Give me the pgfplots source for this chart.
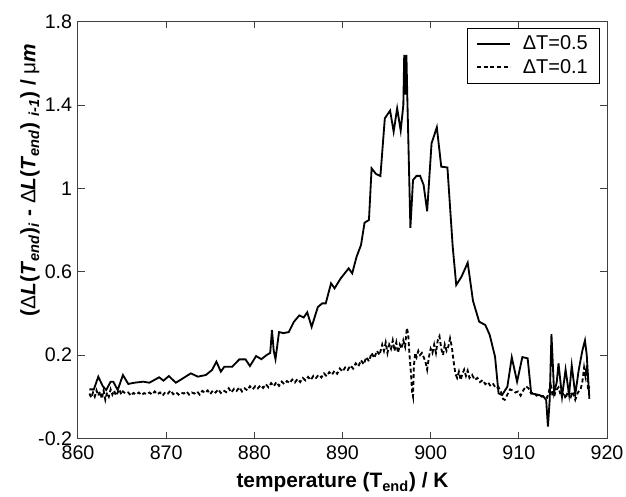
\documentclass[border=0pt]{standalone}
\usepackage{fontspec}
\setmainfont{Liberation Sans}
\usepackage{pgfplots}
\pgfplotsset{compat=1.18}
\begin{document}
\begin{tikzpicture}
\begin{axis}[
  scale only axis,
  width=317.4pt, height=250pt,
  xmin=860, xmax=920, ymin=-0.2, ymax=1.8,
  xtick={860,870,880,890,900,910,920},
  xticklabels={860,870,880,890,900,910,920},
  ytick={-0.2,0.2,0.6,1,1.4,1.8},
  yticklabels={-0.2,0.2,0.6,1,1.4,1.8},
  tick align=inside,
  major tick length=4pt,
  axis line style={black!75, line width=0.6pt},
  tick style={black!75, line width=0.6pt},
  ticklabel style={font=\fontsize{11.8}{13}\selectfont},
  xticklabel style={yshift=-1pt},
  xlabel={\bfseries temperature (T\textsubscript{end}) / K},
  xlabel style={font=\fontsize{12.5}{14}\selectfont, at={(axis description cs:0.5,0)}, anchor=base, yshift=-29.4pt},
  ylabel={\textbf{(}Δ\textbf{\textit{L}(\textit{T}\textsubscript{\textit{end}})\textsubscript{\textit{i}} - }Δ\textbf{\textit{L}(\textit{T}\textsubscript{\textit{end}}) \textsubscript{\textit{i-1}}) / }μ\textbf{\textit{m}}},
  ylabel style={font=\fontsize{12.5}{14}\selectfont, at={(axis description cs:-0.0907,0.62)}, anchor=center},
  legend style={at={(rel axis cs:1,1)}, anchor=north east, xshift=-4.2pt, yshift=-3.8pt,
    draw=black, line width=0.6pt, fill=white, font=\fontsize{12}{14}\selectfont,
    inner xsep=5pt, inner ysep=2.5pt, row sep=0pt,
    /tikz/every odd column/.append style={column sep=5pt}},
  legend cell align=left,
  legend image code/.code={\draw[#1] (0pt,0pt) -- (20pt,0pt);},
]
\addplot[black, line width=1.1pt] table {
861.3 0.035
861.8 0.035
862.3 0.096
862.8 0.051
863.2 0.032
863.7 0.072
864.0 0.072
864.5 0.032
865.1 0.104
865.7 0.061
866.4 0.067
867.4 0.072
868.1 0.067
869.2 0.093
869.7 0.077
870.3 0.099
871.1 0.067
871.9 0.088
872.8 0.112
873.6 0.096
874.5 0.104
875.2 0.128
875.7 0.168
876.2 0.12
876.6 0.144
877.5 0.144
878.3 0.179
879.0 0.179
879.5 0.147
880.2 0.195
880.8 0.18
881.4 0.20
881.8 0.21
882.0 0.32
882.2 0.22
882.4 0.18
882.8 0.31
883.3 0.305
883.9 0.31
884.5 0.36
885.1 0.39
885.6 0.38
886.0 0.405
886.5 0.335
887.2 0.43
887.7 0.448
888.1 0.448
888.7 0.544
889.1 0.52
889.8 0.568
890.7 0.616
891.1 0.592
891.6 0.672
892.1 0.728
892.5 0.835
893.0 0.848
893.3 1.096
893.8 1.069
894.3 1.059
894.8 1.336
895.4 1.373
895.8 1.272
896.2 1.384
896.6 1.277
896.9 1.40
897.0 1.64
897.15 1.45
897.25 1.64
897.35 1.44
897.7 0.81
898.0 1.04
898.4 1.06
898.8 1.06
899.2 1.016
899.6 0.89
900.1 1.216
900.7 1.293
901.2 1.104
901.9 1.10
902.5 0.72
902.9 0.536
903.5 0.576
904.2 0.643
904.8 0.46
905.5 0.36
906.2 0.344
906.7 0.296
907.3 0.192
907.7 0.016
908.1 0.008
908.7 0.048
909.2 0.189
909.8 0.072
910.4 0.19
911.0 0.184
911.4 0.016
912.3 0.008
912.8 0.0
913.1 -0.016
913.3 -0.144
913.5 -0.016
913.7 0.30
914.0 0.02
914.3 0.07
914.5 0.16
914.9 0.0
915.3 0.13
915.7 0.01
916.0 0.15
916.4 0.01
916.8 0.13
917.2 0.22
917.5 0.27
917.7 0.2
918.0 -0.01
};
\addlegendentry{ΔT=0.5}
\addplot[black, line width=1.1pt, dash pattern=on 2.4pt off 1.6pt] table {
861.3 0.015
861.5 -0.005
861.7 0.02
861.9 0.0
862.1 0.03
862.3 0.005
862.5 0.025
862.7 -0.01
862.9 0.03
863.1 -0.015
863.3 0.02
863.5 0.0
863.7 0.035
863.9 0.01
864.1 0.03
864.3 0.005
864.5 0.02
864.7 0.035
864.9 0.01
865.1 0.025
865.4 0.015
865.7 0.02
866.0 0.005
866.3 0.018
866.6 0.01
866.9 0.02
867.2 0.008
867.5 0.017
867.8 0.012
868.1 0.02
868.4 0.01
868.7 0.025
869.0 0.012
869.3 0.02
869.6 0.005
869.9 0.022
870.2 0.015
870.5 0.03
870.8 0.012
871.1 0.022
871.4 0.01
871.7 0.02
872.0 0.015
872.3 0.025
872.6 0.01
872.9 0.02
873.2 0.015
873.5 0.025
873.8 0.01
874.1 0.028
874.4 0.018
874.7 0.03
875.0 0.012
875.3 0.03
875.6 0.02
875.9 0.035
876.2 0.018
876.5 0.03
876.8 0.022
877.1 0.04
877.4 0.02
877.7 0.038
878.0 0.028
878.3 0.045
878.6 0.025
878.9 0.04
879.2 0.03
879.5 0.05
879.8 0.035
880.1 0.05
880.4 0.04
880.7 0.055
881.0 0.042
881.3 0.06
881.6 0.045
881.9 0.065
882.2 0.05
882.5 0.07
882.8 0.052
883.1 0.072
883.4 0.06
883.7 0.075
884.0 0.065
884.3 0.082
884.6 0.068
884.9 0.085
885.2 0.07
885.5 0.09
885.8 0.078
886.1 0.095
886.4 0.08
886.7 0.1
887.0 0.09
887.3 0.105
887.6 0.092
887.9 0.112
888.2 0.098
888.5 0.118
888.8 0.105
889.1 0.125
889.4 0.11
889.7 0.135
890.0 0.12
890.3 0.14
890.6 0.128
890.9 0.15
891.2 0.135
891.5 0.16
891.8 0.145
892.1 0.175
892.4 0.155
892.7 0.19
893.0 0.17
893.3 0.21
893.6 0.185
893.9 0.22
894.2 0.2
894.5 0.25
894.7 0.22
894.9 0.26
895.1 0.21
895.3 0.25
895.5 0.23
895.7 0.27
895.9 0.22
896.1 0.26
896.3 0.21
896.5 0.25
896.7 0.23
896.9 0.27
897.1 0.24
897.3 0.33
897.45 0.3
897.6 0.2
897.75 0.12
897.9 0.02
898.0 0.0
898.1 0.15
898.25 0.21
898.4 0.19
898.6 0.22
898.8 0.2
899.0 0.21
899.2 0.19
899.4 0.17
899.6 0.13
899.8 0.19
900.0 0.23
900.2 0.21
900.4 0.25
900.6 0.21
900.8 0.27
901.0 0.29
901.2 0.23
901.4 0.2
901.6 0.25
901.8 0.22
902.0 0.24
902.2 0.28
902.4 0.24
902.6 0.17
902.8 0.11
903.0 0.09
903.2 0.12
903.4 0.08
903.6 0.11
903.8 0.13
904.0 0.1
904.2 0.125
904.4 0.09
904.7 0.105
905.0 0.08
905.3 0.09
905.6 0.07
905.9 0.08
906.2 0.06
906.5 0.07
906.8 0.05
907.1 0.06
907.4 0.04
907.7 0.045
908.0 0.02
908.2 -0.01
908.4 -0.015
908.7 0.01
909.0 0.035
909.3 0.03
909.6 0.02
909.9 0.025
910.2 0.005
910.5 0.03
910.8 0.05
911.1 0.04
911.4 0.015
911.7 0.02
912.0 0.005
912.3 0.01
912.6 0.0
912.9 0.005
913.2 -0.005
913.4 0.02
913.6 0.07
913.8 0.01
914.0 0.0
914.2 0.03
914.5 0.045
914.8 0.0
915.1 0.02
915.3 -0.01
915.6 0.03
915.9 0.0
916.1 0.025
916.4 -0.015
916.7 0.02
917.0 0.035
917.2 0.07
917.4 0.14
917.55 0.1
917.7 0.15
917.85 0.03
918.0 0.05
};
\addlegendentry{ΔT=0.1}
\coordinate (bbsw) at (rel axis cs:0,0);
\coordinate (bbne) at (rel axis cs:1,1);
\end{axis}
\pgfresetboundingbox
\useasboundingbox ([xshift=-46.8pt,yshift=-34.6pt]bbsw) rectangle ([xshift=11.4pt,yshift=13pt]bbne);
\end{tikzpicture}
\end{document}
